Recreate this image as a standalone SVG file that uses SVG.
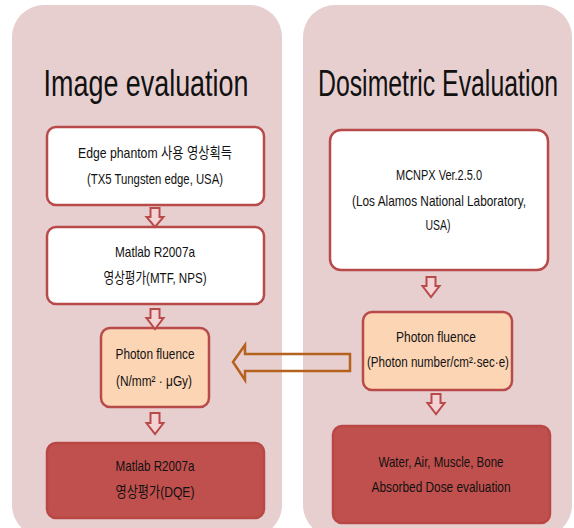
<svg xmlns="http://www.w3.org/2000/svg" width="574" height="528" viewBox="0 0 574 528">
<style>
.panel{fill:#e7cfd0;stroke:none}
.box{stroke:#b94a4a;stroke-width:2.5}
.white{fill:#ffffff}
.peach{fill:#fcd5b5}
.dark{fill:#c0504d;stroke:#b84745}
.t{font-family:"Liberation Sans","Noto Sans CJK KR",sans-serif;font-size:15px;fill:#111;text-anchor:middle}
.title{font-family:"Liberation Sans","Noto Sans CJK KR",sans-serif;font-size:37px;fill:#111;text-anchor:middle}
.darr{fill:#f3d3d3;stroke:#b94a4a;stroke-width:2;stroke-linejoin:miter}
.harr{fill:none;stroke:#b5621e;stroke-width:2.5}
</style>
<rect width="574" height="528" fill="#ffffff"/>
<g id="panel-image">
<rect class="panel" x="12" y="5" width="270" height="532" rx="32"/>
<text class="title" transform="translate(146,96) scale(0.727,1)" x="0" y="0">Image evaluation</text>
</g>
<g id="panel-dose">
<rect class="panel" x="303" y="5" width="269" height="532" rx="32"/>
<text class="title" transform="translate(438,96) scale(0.671,1)" x="0" y="0">Dosimetric Evaluation</text>
</g>
<g id="node-edge">
<rect class="box white" x="47" y="127" width="217" height="78" rx="9"/>
<text class="t" x="155" y="158" textLength="154" lengthAdjust="spacingAndGlyphs">Edge phantom 사용 영상획득</text>
<text class="t" x="155" y="184" textLength="136" lengthAdjust="spacingAndGlyphs">(TX5 Tungsten edge, USA)</text>
</g>
<g id="node-matlab1">
<rect class="box white" x="47" y="227" width="217" height="77" rx="9"/>
<text class="t" x="155" y="257" textLength="80" lengthAdjust="spacingAndGlyphs">Matlab R2007a</text>
<text class="t" x="155" y="283" textLength="103" lengthAdjust="spacingAndGlyphs">영상평가(MTF, NPS)</text>
</g>
<g id="node-fluence-left">
<rect class="box peach" x="101" y="328" width="108" height="79" rx="9"/>
<text class="t" x="155" y="359" textLength="79" lengthAdjust="spacingAndGlyphs">Photon fluence</text>
<text class="t" x="154" y="386" textLength="76" lengthAdjust="spacingAndGlyphs">(N/mm² · μGy)</text>
</g>
<g id="node-matlab2">
<rect class="box dark" x="47" y="443" width="217" height="75" rx="9"/>
<text class="t" x="155" y="471" textLength="79" lengthAdjust="spacingAndGlyphs">Matlab R2007a</text>
<text class="t" x="155" y="497" textLength="79" lengthAdjust="spacingAndGlyphs">영상평가(DQE)</text>
</g>
<g id="node-mcnpx">
<rect class="box white" x="330" y="130" width="218" height="140" rx="11"/>
<text class="t" x="439" y="180" textLength="86" lengthAdjust="spacingAndGlyphs">MCNPX Ver.2.5.0</text>
<text class="t" x="439" y="206" textLength="174" lengthAdjust="spacingAndGlyphs">(Los Alamos National Laboratory,</text>
<text class="t" x="438" y="230" textLength="25" lengthAdjust="spacingAndGlyphs">USA)</text>
</g>
<g id="node-fluence-right">
<rect class="box peach" x="363" y="312" width="149" height="78" rx="9"/>
<text class="t" x="436" y="342" textLength="80" lengthAdjust="spacingAndGlyphs">Photon fluence</text>
<text class="t" x="438" y="367" textLength="142" lengthAdjust="spacingAndGlyphs">(Photon number/cm²·sec·e)</text>
</g>
<g id="node-dose">
<rect class="box dark" x="333" y="426" width="217" height="97" rx="9"/>
<text class="t" x="441" y="467" textLength="125" lengthAdjust="spacingAndGlyphs">Water, Air, Muscle, Bone</text>
<text class="t" x="441" y="492" textLength="139" lengthAdjust="spacingAndGlyphs">Absorbed Dose evaluation</text>
</g>
<g id="connectors">
<polygon class="darr" points="150.5,208 159.5,208 159.5,217 163.5,217 155,227 146.5,217 150.5,217"/>
<polygon class="darr" points="150.5,309 159.5,309 159.5,318 163.5,318 155,329 146.5,318 150.5,318"/>
<polygon class="darr" points="150.5,413 159.5,413 159.5,423 163.5,423 155,434 146.5,423 150.5,423"/>
<polygon class="darr" points="426.5,277 435.5,277 435.5,286 439.5,286 431,297 422.5,286 426.5,286"/>
<polygon class="darr" points="431.5,394 440.5,394 440.5,403 444.5,403 436,414 427.5,403 431.5,403"/>
<polygon class="harr" points="233,362 245,345 245,354 350,354 350,371 245,371 245,380"/>
</g>
</svg>
